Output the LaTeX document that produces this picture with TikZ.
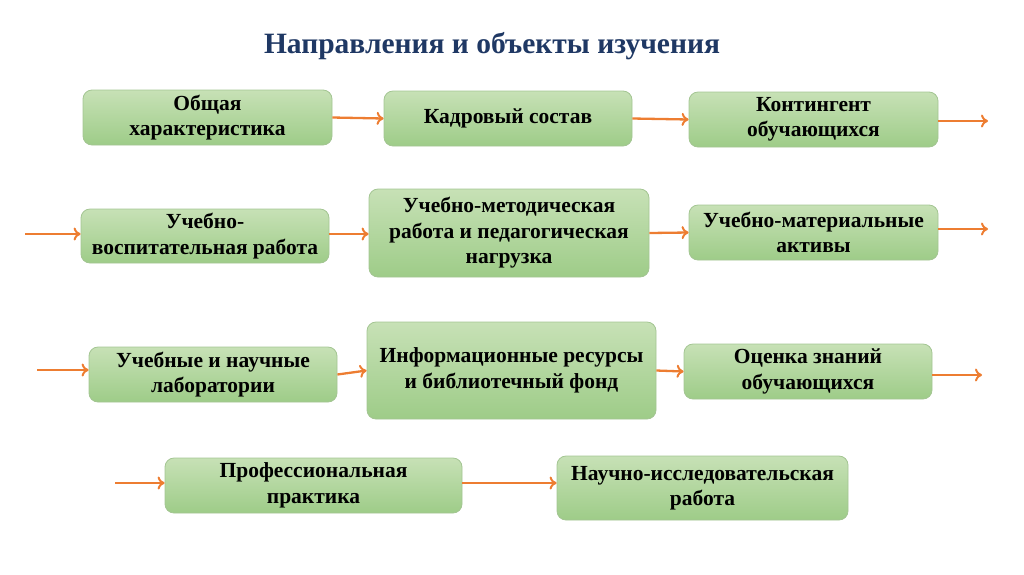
\documentclass[tikz,border=0pt]{standalone}
\usepackage{fontspec}
\setmainfont{Liberation Serif}
\usetikzlibrary{arrows.meta}
\definecolor{boxtop}{HTML}{C7E1B6}
\definecolor{boxbot}{HTML}{9ECC88}
\definecolor{boxborder}{HTML}{A3C592}
\definecolor{arr}{HTML}{ED7D31}
\definecolor{titlec}{HTML}{1F3864}
\tikzset{
  box/.style={rounded corners=9pt, draw=boxborder, line width=0.8pt,
    top color=boxtop, bottom color=boxbot, align=center, inner sep=2pt,
    font=\fontsize{21.5}{25.5}\selectfont\bfseries, text=black},
  conn/.style={draw=arr, line width=2.3pt, -{To[length=7pt,width=13pt,line width=2pt]}},
}
\begin{document}
\begin{tikzpicture}[x=1pt,y=-1pt]
\useasboundingbox (0,0) rectangle (1024,574);
\node[font=\fontsize{29.5}{34}\selectfont\bfseries, text=titlec] (title) at (492,46) {Направления и объекты изучения};
% row 1
\node[box, minimum width=249, minimum height=55] (a) at (207.5,117.5) {Общая\\характеристика};
\node[box, minimum width=248, minimum height=55] (b) at (508,118.5) {Кадровый состав};
\node[box, minimum width=249, minimum height=55] (c) at (813.5,119.5) {Контингент\\обучающихся};
% row 2
\node[box, minimum width=248, minimum height=54] (d) at (205,236) {Учебно-\\воспитательная работа};
\node[box, minimum width=280, minimum height=88] (e) at (509,233) {Учебно-методическая\\работа и педагогическая\\нагрузка};
\node[box, minimum width=249, minimum height=55] (f) at (813.5,232.5) {Учебно-материальные\\активы};
% row 3
\node[box, minimum width=248, minimum height=55] (g) at (213,374.5) {Учебные и научные\\лаборатории};
\node[box, minimum width=289, minimum height=97] (h) at (511.5,370.5) {Информационные ресурсы\\и библиотечный фонд};
\node[box, minimum width=248, minimum height=55] (i) at (808,371.5) {Оценка знаний\\обучающихся};
% row 4
\node[box, minimum width=297, minimum height=55] (j) at (313.5,485.5) {Профессиональная\\практика};
\node[box, minimum width=291, minimum height=64] (k) at (702.5,488) {Научно-исследовательская\\работа};
% free ends
\coordinate (cOut) at (988,121);
\coordinate (dIn) at (25,234);
\coordinate (fOut) at (988,229);
\coordinate (gIn) at (37,370);
\coordinate (iOut) at (982,375);
\coordinate (jIn) at (115,483);
% connectors
\draw[conn] (a.east) -- (b.west);
\draw[conn] (b.east) -- (c.west);
\draw[conn] (c.east |- cOut) -- (cOut);
\draw[conn] (dIn) -- (dIn -| d.west);
\draw[conn] (d.east |- dIn) -- (dIn -| e.west);
\draw[conn] (e.east) -- (f.west);
\draw[conn] (f.east |- fOut) -- (fOut);
\draw[conn] (gIn) -- (gIn -| g.west);
\draw[conn] (g.east) -- (h.west);
\draw[conn] (h.east) -- (i.west);
\draw[conn] (i.east |- iOut) -- (iOut);
\draw[conn] (jIn) -- (jIn -| j.west);
\draw[conn] (j.east |- jIn) -- (jIn -| k.west);
\end{tikzpicture}
\end{document}
